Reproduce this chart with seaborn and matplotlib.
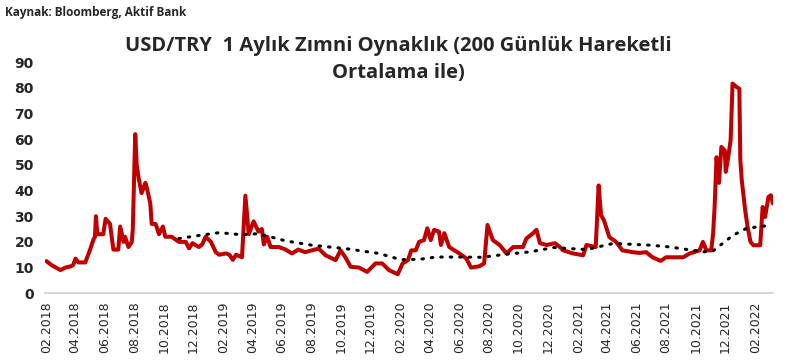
import pandas as pd
import numpy as np
import matplotlib.pyplot as plt
import matplotlib.dates as mdates
import seaborn as sns

# USD/TRY 1 aylik zimni oynaklik (okunan degerler)
vol_dates = [
    "2018-02-01", "2018-02-11", "2018-03-02", "2018-03-12", "2018-03-24", "2018-03-28",
    "2018-04-02", "2018-04-08", "2018-04-22", "2018-05-02", "2018-05-09", "2018-05-12",
    "2018-05-14", "2018-05-17", "2018-05-29", "2018-06-03", "2018-06-12", "2018-06-19",
    "2018-06-29", "2018-07-03", "2018-07-10", "2018-07-13", "2018-07-20", "2018-07-27",
    "2018-07-29", "2018-08-03", "2018-08-06", "2018-08-10", "2018-08-16", "2018-08-24",
    "2018-08-27", "2018-09-03", "2018-09-06", "2018-09-14", "2018-09-21", "2018-09-29",
    "2018-10-04", "2018-10-17", "2018-11-01", "2018-11-15", "2018-11-22", "2018-11-29",
    "2018-12-12", "2018-12-19", "2018-12-26", "2019-01-06", "2019-01-16", "2019-01-23",
    "2019-02-06", "2019-02-13", "2019-02-20", "2019-02-27", "2019-03-11", "2019-03-18",
    "2019-03-25", "2019-04-04", "2019-04-14", "2019-04-21", "2019-04-25", "2019-05-02",
    "2019-05-09", "2019-05-19", "2019-05-26", "2019-06-09", "2019-06-22", "2019-07-05",
    "2019-07-19", "2019-08-02", "2019-08-16", "2019-08-30", "2019-09-20", "2019-09-30",
    "2019-10-10", "2019-10-21", "2019-11-07", "2019-11-24", "2019-12-11", "2019-12-25",
    "2020-01-08", "2020-01-26", "2020-02-05", "2020-02-16", "2020-02-23", "2020-03-03",
    "2020-03-10", "2020-03-20", "2020-03-27", "2020-04-03", "2020-04-10", "2020-04-20",
    "2020-04-24", "2020-05-01", "2020-05-11", "2020-06-01", "2020-06-15", "2020-06-25",
    "2020-07-12", "2020-07-22", "2020-07-29", "2020-08-09", "2020-08-23", "2020-09-06",
    "2020-09-20", "2020-10-10", "2020-10-17", "2020-10-31", "2020-11-07", "2020-11-14",
    "2020-11-28", "2020-12-15", "2020-12-25", "2021-01-01", "2021-01-21", "2021-02-11",
    "2021-02-18", "2021-03-09", "2021-03-15", "2021-03-20", "2021-03-26", "2021-04-06",
    "2021-04-20", "2021-05-03", "2021-05-24", "2021-06-07", "2021-06-21", "2021-07-04",
    "2021-07-21", "2021-08-01", "2021-09-05", "2021-09-19", "2021-10-09", "2021-10-16",
    "2021-10-23", "2021-11-02", "2021-11-06", "2021-11-09", "2021-11-13", "2021-11-18",
    "2021-11-23", "2021-11-30", "2021-12-02", "2021-12-07", "2021-12-12", "2021-12-16",
    "2021-12-24", "2021-12-30", "2022-01-01", "2022-01-04", "2022-01-11", "2022-01-16",
    "2022-01-22", "2022-01-28", "2022-02-11", "2022-02-16", "2022-02-21", "2022-02-28",
    "2022-03-05", "2022-03-09",
]
vol_values = [
    12.5, 11, 9, 10, 10.5, 11,
    13.5, 12, 12, 17, 21, 22,
    30, 23, 23, 29, 27, 17,
    17, 26, 20, 22, 18, 20,
    25, 62, 50, 45, 39, 43,
    41, 35, 27, 27, 23, 26,
    22, 22, 20, 20, 17.5, 19.5,
    18, 19, 22, 20, 16, 15,
    15.5, 15, 13, 15, 14, 38,
    23, 28, 24, 25, 19, 22,
    18, 18, 18, 17, 15.5, 17,
    16, 16.7, 17.4, 14.8, 12.9, 16.7,
    14, 10.3, 10, 8.3, 11.6, 11.6,
    9, 7.4, 11.6, 12.9, 16.7, 16.7,
    20, 20.7, 25.3, 20.7, 24.7, 24,
    18.8, 23.4, 18, 15.5, 13.6, 10,
    10.5, 11.6, 26.6, 20.7, 18.8, 15.5,
    18, 18, 21.3, 23.4, 24.7, 19.5,
    18.8, 19.5, 18, 16.7, 15.5, 14.8,
    18.8, 18, 42, 30.4, 28.4, 21.9,
    20, 16.7, 16, 15.7, 16, 14,
    12.6, 14, 14, 15.5, 16.7, 20,
    16.7, 16.7, 23.4, 33.6, 53, 43,
    57, 55.6, 47.3, 53, 59.6, 81.7,
    80.4, 79.7, 52, 44, 32.3, 25.8,
    20, 18.7, 18.7, 33.6, 29.7, 37.5,
    38.2, 35,
]

# 200 gunluk hareketli ortalama
ma_dates = [
    "2018-11-01", "2018-12-12", "2019-01-23", "2019-03-10", "2019-04-14", "2019-06-09",
    "2019-08-02", "2019-10-10", "2019-12-18", "2020-02-01", "2020-03-10", "2020-04-14",
    "2020-06-01", "2020-07-16", "2020-09-06", "2020-10-24", "2020-12-12", "2021-02-18",
    "2021-04-14", "2021-07-01", "2021-08-10", "2021-10-16", "2021-11-06", "2021-12-17",
    "2022-01-14", "2022-03-05",
]
ma_values = [
    21.3, 22.5, 23.6, 22.8, 23.2, 20.4,
    18.7, 17.4, 15.5, 13.1, 13.2, 14.1,
    14.1, 14.0, 15.2, 16.1, 17.8, 17.0,
    19.4, 18.7, 18.0, 16.1, 16.5, 22.6,
    25.3, 26.5,
]

vol = pd.DataFrame({"tarih": pd.to_datetime(vol_dates), "deger": vol_values})
ma = pd.DataFrame({"tarih": pd.to_datetime(ma_dates), "deger": ma_values})

sns.set_style("white")
plt.rcParams["font.family"] = ["DejaVu Sans"]

fig = plt.figure(figsize=(7.96, 3.62), dpi=100)
ax = fig.add_axes([0.0565, 0.19, 0.915, 0.638])

sns.lineplot(data=vol, x="tarih", y="deger", ax=ax, color="#C00000",
             linewidth=2.9, solid_joinstyle="round")
sns.lineplot(data=ma, x="tarih", y="deger", ax=ax, color="black",
             linewidth=2.2, linestyle=(0, (0.5, 2.6)), dash_capstyle="round")

ax.set_ylim(0, 90)
ax.set_yticks(range(0, 91, 10))
ax.set_xlim(pd.Timestamp("2018-01-29"), pd.Timestamp("2022-03-10"))
ax.xaxis.set_major_locator(mdates.MonthLocator(bymonth=[2, 4, 6, 8, 10, 12]))
ax.xaxis.set_major_formatter(mdates.DateFormatter("%m.%Y"))
ax.set_xlabel("")
ax.set_ylabel("")

for lab in ax.get_xticklabels():
    lab.set_rotation(90)
    lab.set_fontsize(9)
for lab in ax.get_yticklabels():
    lab.set_fontsize(10)
    lab.set_fontweight("bold")

ax.tick_params(axis="x", length=3, color="#BFBFBF", pad=3)
ax.tick_params(axis="y", length=0, pad=8)
for side in ["left", "right", "top"]:
    ax.spines[side].set_visible(False)
ax.spines["bottom"].set_color("#D0D0D0")
ax.spines["bottom"].set_linewidth(1.2)

fig.text(0.5, 0.836, "USD/TRY  1 Aylık Zımni Oynaklık (200 Günlük Hareketli\nOrtalama ile)",
         ha="center", va="center", fontsize=14.5, fontweight="bold",
         family=["Open Sans", "DejaVu Sans"], linespacing=1.45)
fig.text(0.006, 0.965, "Kaynak: Bloomberg, Aktif Bank", ha="left", va="center",
         fontsize=8.5, fontweight="bold", family=["Open Sans", "DejaVu Sans"])

fig.savefig("out.png", dpi=100)
